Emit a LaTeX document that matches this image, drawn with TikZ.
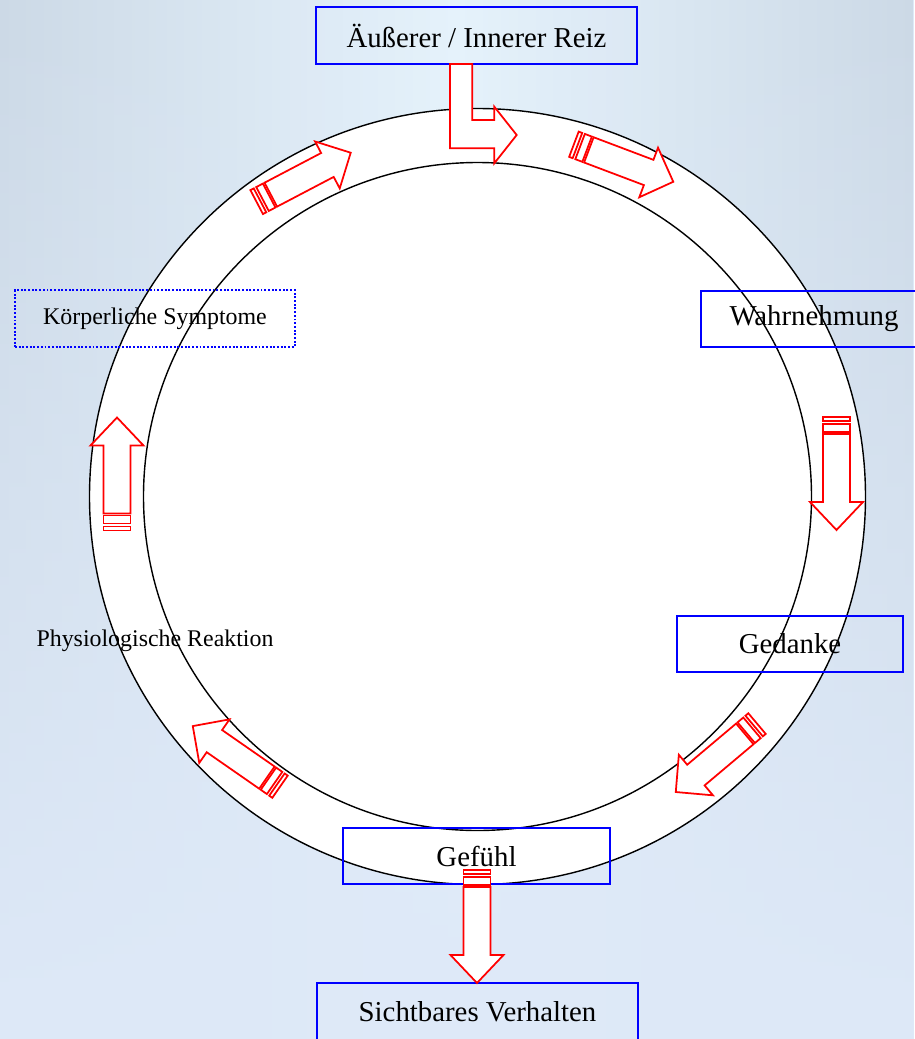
\documentclass[tikz,border=0pt]{standalone}
\usepackage{fontspec}
\setmainfont{Liberation Serif}
\usetikzlibrary{fadings}

\definecolor{bgside}{RGB}{204,217,230}
\definecolor{bgmid}{RGB}{230,243,252}
\definecolor{bglow}{RGB}{222,233,248}

\tikzset{
    ring/.style={draw=black, line width=0.8pt},
    stage/.style={draw=blue, line width=1.1pt, inner sep=0pt, minimum height=1.13cm,
        font=\fontsize{16.4}{19}\selectfont},
    smalltext/.style={font=\fontsize{13.6}{16}\selectfont},
    blockarrow/.style={draw=red, fill=white, line width=1pt, line join=miter}
}

% striped block arrow, centred at the origin, pointing along +x
\newcommand{\stripedarrow}{%
    \draw[blockarrow] (-56.5,-13.5) rectangle (-52.5,13.5);
    \draw[blockarrow] (-49.5,-13.5) rectangle (-41.5,13.5);
    \draw[blockarrow] (-39.5,-13.5) -- (28.5,-13.5) -- (28.5,-26.5) -- (56.5,0)
        -- (28.5,26.5) -- (28.5,13.5) -- (-39.5,13.5) -- cycle;
}

\begin{document}
\begin{tikzpicture}[x=0.02cm, y=-0.02cm]
        % background
        \useasboundingbox (0,0) rectangle (914,1039);
        \fill[bglow] (0,0) rectangle (914,1039);
        \shade[left color=bgside, right color=bgside, middle color=bgmid, path fading=south]
            (0,0) rectangle (914,1039);

        % ring
        \fill[white] (477.5,496.5) circle (388);
        \draw[ring] (477.5,496.5) circle (388);
        \draw[ring] (477.5,496.5) circle (334);

        % stages
        \node[stage, minimum width=6.42cm] (reiz) at (476.5,35.5) {Äußerer / Innerer Reiz};
        \node[stage, minimum width=4.52cm] (wahrnehmung) at (814,319) {Wahrnehmung};
        \node[stage, minimum width=4.52cm] (gedanke) at (790,644) {Gedanke};
        \node[stage, minimum width=5.34cm] (gefuehl) at (476.5,856) {Gefühl};
        \node[stage, minimum width=6.42cm] (verhalten) at (477.5,1011.5) {Sichtbares Verhalten};
        \node[stage, smalltext, densely dotted, minimum width=5.6cm] (symptome) at (155,318.5) {Körperliche Symptome};
        \node[smalltext] (reaktion) at (155,641) {Physiologische Reaktion};

        % bent arrow below the stimulus
        \draw[blockarrow] (450,64) -- (472.3,64) -- (472.3,120) -- (494.3,120) -- (494.3,106.7)
            -- (516.7,135) -- (494.3,163.3) -- (494.3,148.3) -- (450,148.3) -- cycle;

        % striped arrows round the ring
        \foreach \mx/\my/\ang/\len in {303.7/177.4/27.7/0.94, 623.6/163/-20.7/0.94,
                836.5/473.5/-90/1, 716.4/757.8/-139.9/0.94, 477/926.5/-90/1,
                236.4/756.4/145.2/0.94, 117/474/90/1}{
            \begin{scope}[shift={(\mx,\my)}, rotate=\ang, xscale=\len]
                \stripedarrow
            \end{scope}
        }
    \end{tikzpicture}
\end{document}
